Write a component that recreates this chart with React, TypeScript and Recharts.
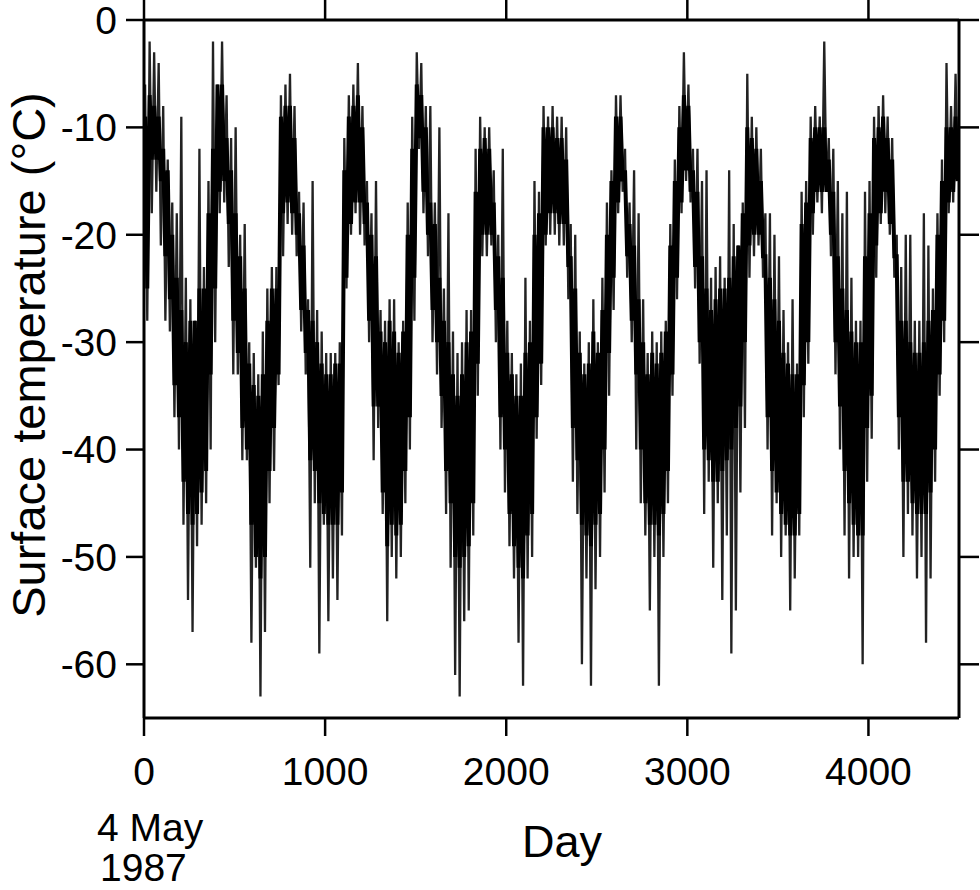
import { LineChart, Line, XAxis, YAxis } from 'recharts';

// Surface temperature in 25-day windows (°C).
// tempHigh / tempLow: outer extent of the trace (the spikes) in each window
// coreHigh / coreLow: the dense, solid part of the trace in each window
const BIN_DAYS = 25;

const tempHigh = [
  -6, -2, -3, -4, -8, -13, -17, -18, -9, -24, -26, -28, -12, -23, -15,
  -2, -6, -2, -7, -11, -10, -20, -19, -30, -31, -33, -29, -25, -23, -23,
  -7, -6, -5, -8, -16, -17, -26, -15, -27, -29, -31, -31, -31, -30, -11,
  -7, -6, -4, -8, -15, -18, -15, -27, -28, -26, -26, -30, -28, -17, -9,
  -3, -4, -8, -8, -17, -10, -25, -18, -29, -31, -30, -27, -27, -12, -9,
  -10, -10, -14, -20, -12, -28, -31, -33, -32, -24, -28, -15, -16, -8, -9,
  -8, -9, -9, -10, -19, -20, -29, -32, -30, -26, -30, -24, -17, -14, -7,
  -7, -12, -17, -14, -18, -26, -31, -29, -30, -29, -28, -19, -13, -8, -3,
  -6, -12, -12, -15, -14, -24, -23, -22, -24, -14, -19, -21, -17, -5, -9,
  -10, -12, -18, -18, -20, -22, -27, -30, -26, -32, -16, -15, -9, -8, -9,
  -2, -11, -12, -15, -18, -16, -24, -28, -28, -16, -15, -9, -8, -7, -9,
  -11, -20, -23, -20, -20, -28, -28, -18, -21, -25, -18, -13, -4, -8, -5,
];

const tempLow = [
  -28, -18, -16, -21, -28, -29, -37, -40, -47, -54, -57, -49, -47, -45, -40,
  -30, -18, -17, -23, -33, -33, -41, -41, -58, -51, -63, -57, -45, -42, -34,
  -22, -19, -20, -22, -29, -33, -51, -45, -59, -47, -56, -52, -54, -48, -25,
  -20, -18, -20, -21, -30, -41, -38, -46, -56, -50, -52, -50, -45, -40, -28,
  -12, -18, -22, -30, -33, -38, -46, -51, -61, -63, -56, -55, -48, -35, -22,
  -22, -21, -30, -40, -44, -49, -52, -58, -62, -52, -50, -39, -34, -21, -20,
  -20, -21, -21, -26, -43, -46, -60, -52, -62, -53, -50, -44, -35, -27, -18,
  -16, -24, -30, -40, -45, -48, -55, -50, -62, -50, -45, -35, -26, -18, -15,
  -17, -25, -32, -46, -43, -51, -45, -54, -48, -59, -55, -44, -38, -24, -22,
  -21, -24, -40, -48, -45, -50, -48, -55, -52, -48, -37, -32, -20, -17, -18,
  -16, -22, -33, -40, -48, -52, -50, -50, -60, -43, -39, -24, -19, -18, -20,
  -24, -40, -50, -46, -48, -52, -50, -58, -52, -43, -35, -30, -18, -17, -15,
];

const coreHigh = [
  -9, -7, -8, -9, -12, -14, -20, -24, -27, -30, -28, -28, -25, -25, -18,
  -12, -6, -6, -11, -14, -18, -22, -25, -32, -34, -35, -33, -28, -25, -25,
  -9, -8, -8, -11, -18, -21, -27, -28, -30, -32, -33, -33, -32, -32, -14,
  -9, -8, -7, -10, -17, -20, -22, -29, -30, -28, -29, -31, -29, -20, -12,
  -6, -7, -10, -17, -19, -24, -28, -30, -33, -35, -33, -30, -29, -16, -12,
  -11, -12, -17, -22, -24, -31, -33, -35, -35, -31, -30, -20, -18, -10, -10,
  -10, -11, -11, -13, -22, -25, -31, -33, -32, -29, -31, -27, -20, -15, -9,
  -9, -14, -19, -21, -26, -30, -33, -31, -32, -31, -29, -21, -15, -10, -7,
  -8, -14, -16, -22, -25, -27, -26, -25, -25, -24, -22, -21, -18, -10, -11,
  -12, -15, -22, -24, -26, -28, -31, -32, -33, -33, -19, -17, -11, -10, -10,
  -10, -13, -16, -22, -25, -27, -29, -30, -30, -22, -18, -11, -10, -9, -11,
  -13, -22, -28, -28, -30, -31, -31, -30, -28, -27, -20, -15, -10, -10, -9,
];

const coreLow = [
  -25, -13, -13, -15, -22, -26, -34, -37, -43, -46, -47, -46, -44, -42, -33,
  -25, -16, -15, -19, -28, -31, -38, -40, -47, -50, -52, -50, -42, -38, -33,
  -18, -17, -18, -20, -27, -31, -41, -42, -45, -46, -47, -47, -47, -44, -24,
  -19, -17, -17, -19, -28, -36, -36, -44, -49, -47, -48, -47, -42, -37, -24,
  -11, -16, -20, -27, -30, -35, -42, -45, -50, -51, -50, -49, -45, -32, -20,
  -20, -20, -27, -37, -40, -46, -49, -51, -52, -48, -46, -37, -32, -20, -18,
  -18, -19, -19, -23, -38, -41, -47, -48, -49, -47, -46, -40, -31, -24, -17,
  -15, -22, -28, -33, -40, -45, -47, -47, -48, -46, -42, -33, -24, -17, -14,
  -16, -23, -30, -40, -41, -43, -43, -42, -41, -40, -38, -36, -30, -21, -20,
  -20, -22, -37, -42, -44, -46, -47, -48, -48, -46, -34, -30, -18, -16, -16,
  -16, -20, -30, -36, -42, -45, -47, -48, -48, -38, -35, -21, -18, -16, -19,
  -22, -37, -43, -43, -45, -46, -46, -46, -44, -40, -33, -28, -17, -16, -15,
];

const xTicks = [0, 1000, 2000, 3000, 4000];
const yTicks = [-60, -50, -40, -30, -20, -10, 0];

const data = tempHigh.flatMap((h, i) => [
  { day: i * BIN_DAYS + 6, spike: h, core: coreHigh[i] },
  { day: i * BIN_DAYS + 18, spike: tempLow[i], core: coreLow[i] },
]);

const FONT = '"Liberation Sans", Arial, Helvetica, sans-serif';
const axisLine = { stroke: '#000', strokeWidth: 3 };
const tickLine = { stroke: '#000', strokeWidth: 2.5 };
const tickText = { fill: '#000', fontSize: 39, fontFamily: FONT };
const blank = () => '';

export default function App() {
  return (
    <div style={{ position: 'absolute', left: 0, top: 0, width: 980, height: 890, background: '#fff' }}>
      <LineChart width={980} height={890} data={data} margin={{ top: 0, right: 0, bottom: 0, left: 0 }}>
        <XAxis
          dataKey="day"
          type="number"
          domain={[0, 4500]}
          ticks={xTicks}
          interval={0}
          height={172}
          tickSize={18}
          tickMargin={21}
          axisLine={axisLine}
          tickLine={tickLine}
          tick={tickText}
          allowDataOverflow
        />
        <XAxis
          xAxisId="top"
          orientation="top"
          dataKey="day"
          type="number"
          domain={[0, 4500]}
          ticks={xTicks}
          interval={0}
          height={20}
          tickSize={20}
          axisLine={axisLine}
          tickLine={tickLine}
          tickFormatter={blank}
          allowDataOverflow
        />
        <YAxis
          type="number"
          domain={[-65, 0]}
          ticks={yTicks}
          interval={0}
          width={144}
          tickSize={18}
          tickMargin={9}
          axisLine={axisLine}
          tickLine={tickLine}
          tick={tickText}
          allowDataOverflow
        />
        <YAxis
          yAxisId="right"
          orientation="right"
          type="number"
          domain={[-65, 0]}
          ticks={yTicks}
          interval={0}
          width={21}
          tickSize={20}
          axisLine={axisLine}
          tickLine={tickLine}
          tickFormatter={blank}
          allowDataOverflow
        />
        <Line
          type="linear"
          dataKey="spike"
          stroke="#222"
          strokeWidth={2.3}
          dot={false}
          isAnimationActive={false}
        />
        <Line
          type="linear"
          dataKey="core"
          stroke="#000"
          strokeWidth={4}
          dot={false}
          isAnimationActive={false}
        />
      </LineChart>
      <svg
        width={980}
        height={890}
        style={{ position: 'absolute', left: 0, top: 0, pointerEvents: 'none' }}
        fontFamily={FONT}
        fill="#000"
      >
        <text x={45} y={355} fontSize={47} textAnchor="middle" transform="rotate(-90 45 355)">
          Surface temperature (°C)
        </text>
        <text x={562} y={857} fontSize={45} textAnchor="middle">Day</text>
        <text x={97} y={841} fontSize={39}>4 May</text>
        <text x={100} y={881} fontSize={39}>1987</text>
      </svg>
    </div>
  );
}
